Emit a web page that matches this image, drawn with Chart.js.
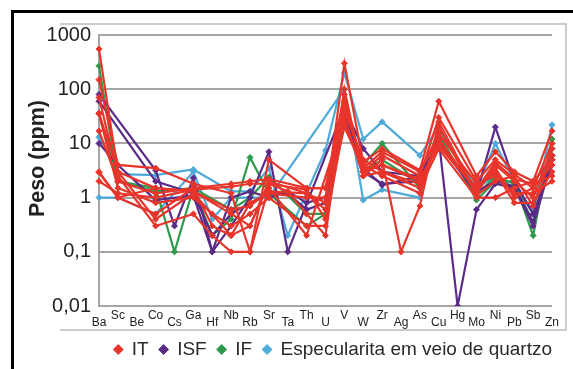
<!DOCTYPE html>
<html>
<head>
<meta charset="utf-8">
<script src="https://cdn.jsdelivr.net/npm/chart.js@4/dist/chart.umd.min.js"></script>
<style>
  html, body { margin: 0; padding: 0; background: #ffffff; }
  canvas { display: block; }
</style>
</head>
<body>
<canvas id="chart" width="573" height="369"></canvas>
<script>
// Elements (x axis)
const categories = ['Ba','Sc','Be','Co','Cs','Ga','Hf','Nb','Rb','Sr','Ta','Th','U','V','W','Zr','Ag','As','Cu','Hg','Mo','Ni','Pb','Sb','Zn'];

// Y axis ticks (ppm, log scale) and their printed text
const tickValues = [0.01, 0.1, 1, 10, 100, 1000];
const tickText = ['0,01', '0,1', '1', '10', '100', '1000'];

// IT samples (ppm)
const it1 = [550, 3, null, 1.5, null, 1.3, null, 0.5, 0.3, 2, null, 1.2, 0.8, 300, 4.5, 8, null, 3.2, 60, null, 2.5, 7, 3, 2, 17];
const it2 = [150, 4, null, 3.5, null, 1.8, null, 1.2, 0.1, 5, null, 1.5, 1.5, 80, 3, 6, null, 2.5, 30, null, 2, 5, 2.7, 1.5, 10];
const it3 = [70, 2.5, null, 0.3, null, 0.5, 0.2, 0.1, 0.1, 1.5, null, 0.2, null, 30, 2.5, 5, 0.1, 0.7, 25, null, 1.2, 4, 2, 1, 8];
const it4 = [36, 3, null, 0.4, null, 1.2, null, 0.2, 0.3, 1.8, 1.3, 0.5, 0.2, 60, 3, 4, null, 2, 10, null, 1.5, 3, 0.8, 0.8, 3];
const it5 = [17, 2, null, 1.2, null, 1.5, null, 1.8, 2, 2.2, null, 1.5, 1.5, 40, 5, 3, null, 1.5, 8, null, 1, 1, 1.5, 2, 5];
const it6 = [3, 1, null, 1.5, null, 1.3, null, 0.6, 0.7, 1.3, null, 1.2, 0.6, 20, 3.5, 7, null, 3, 15, null, 1.8, 2.5, 1.2, 1.2, 2];
const it7 = [2, 1.2, null, 1, null, 1.4, null, 1.6, 1.8, 1.8, null, 1.4, 0.4, 100, 2.5, 3, null, 1.8, 12, null, 1.3, 3.5, 1, 1.5, 4];
const it8 = [2.9, 1, null, 0.5, null, 1.5, 0.3, 0.2, 0.8, 1.2, null, 1, 1, 50, 4, 2.5, null, 1.2, 20, null, 1.1, 2, 2.5, 0.7, 6];
const it9 = [35, 1.5, null, 0.8, null, 1, 0.5, 0.3, 0.5, 1, null, 0.3, 0.3, 25, 3, 4, null, 2.2, 9, null, 1.4, 4.5, 2.2, 1.8, 2.5];

// ISF samples (ppm)
const isf1 = [80, null, null, 3.2, 0.3, 2.3, 0.1, 1, 1.3, 1, 1.3, 0.8, 1, 50, 3.5, 1.7, null, 2.5, 12, 0.01, 0.6, 1.8, 1.5, 0.3, 5];
const isf2 = [10, 4, null, 0.9, null, 1.1, 0.1, 0.3, 1, 7, 0.1, null, null, 45, 8, 3, null, 2.5, 10, null, 1.2, 20, 2, 0.5, 4];
const isf3 = [60, null, null, 2, null, 1.2, 0.2, 0.5, 0.8, 1.2, 1.2, 0.6, 0.8, 40, 3, 1.8, null, 2, 11, null, 1.3, 2, 1.6, 0.35, 6];

// IF samples (ppm)
const if1 = [270, 2, null, 1.5, 0.1, 1.5, 0.2, 0.4, 5.5, 1.2, null, 0.3, 0.5, 40, 4, 10, null, 1.5, 15, null, 0.9, 2, 2, 0.2, 12];
const if2 = [36, 2, null, 1.3, null, 1.5, null, 0.6, 1, 2.4, null, 0.5, 0.5, 30, 3, 5, null, 1.8, 12, null, 1.1, 2.5, 1.8, 0.35, 10];

// Especularita em veio de quartzo (ppm)
const esp1 = [1, 1, null, 0.5, null, 3, 0.4, 1, 1, 1, null, null, null, 100, 0.9, 1.4, null, 1, 18, null, 1.5, 2.5, 1.5, 0.6, 8];
const esp2 = [13, 2.7, null, 2.6, null, 3.3, null, 1.3, 1.3, 3.5, 0.2, null, 7.5, 200, 12, 25, null, 6, 20, null, 1.4, 10, 2, 0.5, 22];

const groups = [
  { label: 'IT', color: '#e8352b', series: [it1, it2, it3, it4, it5, it6, it7, it8, it9] },
  { label: 'ISF', color: '#5b2b88', series: [isf1, isf2, isf3] },
  { label: 'IF', color: '#2e9a4c', series: [if1, if2] },
  { label: 'Especularita em veio de quartzo', color: '#4eaad9', series: [esp1, esp2] }
];

const datasets = [];
const legendFirst = new Set();
groups.forEach(g => {
  g.series.forEach((s, i) => {
    if (i === 0) legendFirst.add(datasets.length);
    datasets.push({
      label: g.label,
      data: s,
      borderColor: g.color,
      backgroundColor: g.color,
      borderWidth: 2.2,
      pointStyle: 'rectRot',
      pointRadius: 3,
      pointBorderWidth: 1,
      pointBackgroundColor: g.color,
      pointBorderColor: g.color,
      spanGaps: true,
      tension: 0
    });
  });
});

// Frame around the figure and the light box around the plot
const framePlugin = {
  id: 'frame',
  beforeDraw(chart) {
    const ctx = chart.ctx;
    ctx.save();
    ctx.fillStyle = '#ffffff';
    ctx.fillRect(0, 0, chart.width, chart.height);
    ctx.strokeStyle = '#cfcbc8';
    ctx.lineWidth = 2;
    ctx.beginPath();
    ctx.moveTo(60, 24);
    ctx.lineTo(566, 24);
    ctx.lineTo(566, 330);
    ctx.lineTo(60, 330);
    ctx.stroke();
    ctx.strokeStyle = '#000000';
    ctx.lineWidth = 3;
    ctx.beginPath();
    ctx.moveTo(12.5, 369);
    ctx.lineTo(12.5, 11.5);
    ctx.lineTo(573, 11.5);
    ctx.stroke();
    ctx.restore();
  }
};

const fontFamily = '"Liberation Sans", Arial, sans-serif';

new Chart(document.getElementById('chart'), {
  type: 'line',
  data: {
    labels: categories.map((c, i) => (i % 2 === 0 ? ['', c] : [c])),
    datasets
  },
  options: {
    responsive: false,
    animation: false,
    devicePixelRatio: 1,
    layout: { padding: { left: 0, right: 10, top: 35, bottom: 0 } },
    plugins: {
      tooltip: { enabled: false },
      legend: {
        position: 'bottom',
        align: 'end',
        labels: {
          usePointStyle: true,
          boxWidth: 8,
          boxHeight: 7,
          padding: 11,
          color: '#2a2a2a',
          font: { family: fontFamily, size: 19 },
          filter: (item) => legendFirst.has(item.datasetIndex)
        }
      }
    },
    scales: {
      x: {
        type: 'category',
        offset: false,
        grid: { display: false, drawTicks: false },
        border: { display: false },
        ticks: {
          autoSkip: false,
          maxRotation: 0,
          minRotation: 0,
          padding: 6,
          color: '#222222',
          font: { family: fontFamily, size: 12, lineHeight: 0.58 }
        },
        afterFit(scale) { scale.height = 23; }
      },
      y: {
        type: 'logarithmic',
        min: 0.01,
        max: 1000,
        afterBuildTicks(scale) {
          scale.ticks = tickValues.map(v => ({ value: v }));
        },
        ticks: {
          padding: 8,
          color: '#222222',
          font: { family: fontFamily, size: 20 },
          callback: (value) => {
            const i = tickValues.findIndex(t => Math.abs(t - value) < t * 1e-6);
            return i >= 0 ? tickText[i] : '';
          }
        },
        grid: { color: '#aaa5a2', lineWidth: 2, drawTicks: false },
        border: { color: '#aaa5a2', width: 2 },
        title: {
          display: true,
          text: '    Peso (ppm)',
          color: '#222222',
          font: { family: fontFamily, size: 21.5, weight: 'bold' },
          padding: { top: 25, bottom: 0 }
        },
        afterFit(scale) { scale.width = 99; }
      },
      // empty strip on the right so the plot ends short of the legend's right edge
      side: {
        type: 'linear',
        position: 'right',
        display: true,
        grid: { display: false, drawTicks: false },
        border: { display: false },
        ticks: { display: false },
        afterFit(scale) { scale.width = 11; }
      }
    }
  },
  plugins: [framePlugin]
});
</script>
</body>
</html>
